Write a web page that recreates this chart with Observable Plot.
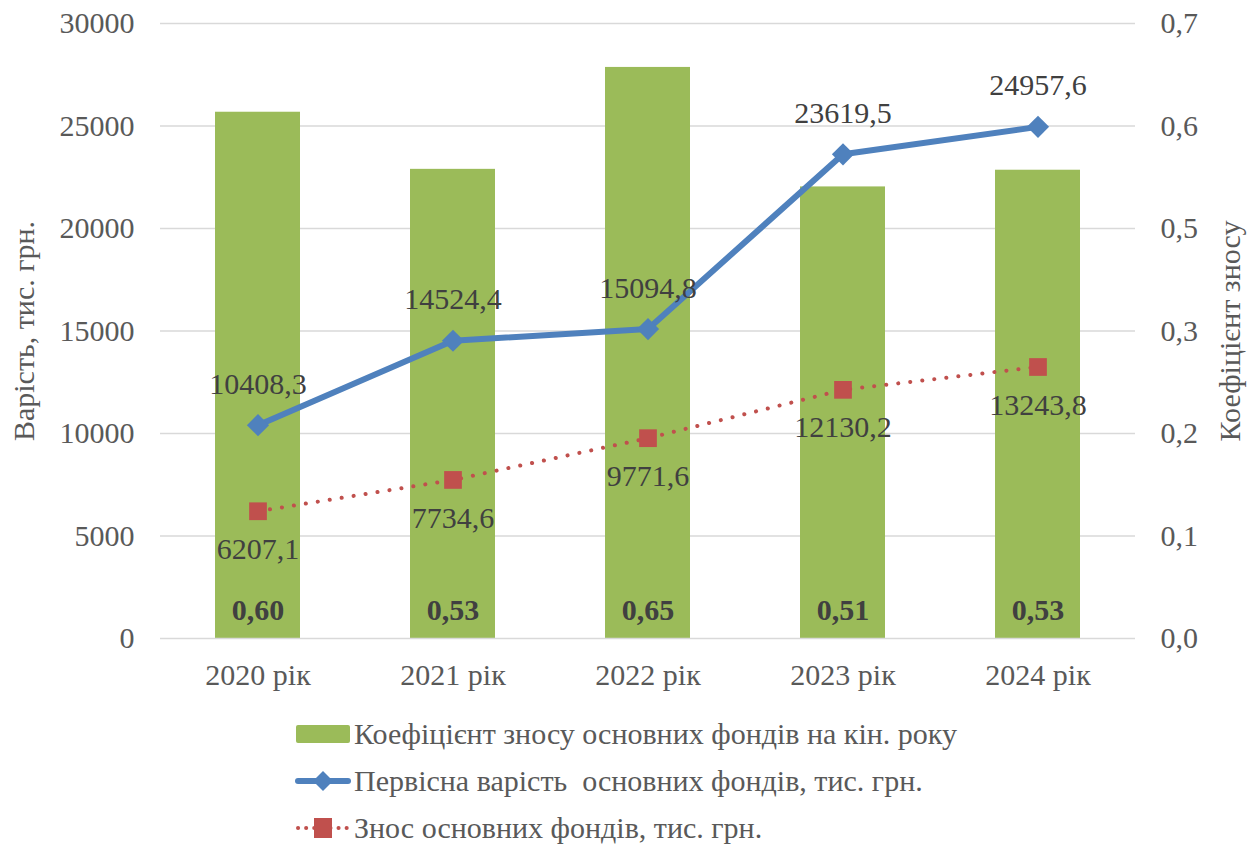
<!DOCTYPE html>
<html>
<head>
<meta charset="utf-8">
<script src="https://cdn.jsdelivr.net/npm/d3@7"></script>
<script src="https://cdn.jsdelivr.net/npm/@observablehq/plot@0.6"></script>
<style>
  body { margin: 0; background: #fff; font-family: 'Liberation Serif', serif; }
  #chart svg, #chart svg text { font-family: 'Liberation Serif', serif !important; }
  #legend { padding-left: 295px; margin-top: 10px; color: #595959; font-size: 30px; font-family: 'Liberation Serif', serif; }
  .row { height: 47px; display: flex; align-items: center; }
  .row svg { margin-right: 3px; }
</style>
</head>
<body>
<div id="chart"></div>
<div id="legend"></div>
<script>
const years = ["2020 рік", "2021 рік", "2022 рік", "2023 рік", "2024 рік"];
const ratio = [0.599, 0.534, 0.65, 0.514, 0.533];
const original = [10408.3, 14524.4, 15094.8, 23619.5, 24957.6];
const wear = [6207.1, 7734.6, 9771.6, 12130.2, 13243.8];
const leftTicks = [0, 5000, 10000, 15000, 20000, 25000, 30000];
const seriesNames = [
  "Коефіцієнт зносу основних фондів на кін. року",
  "Первісна варість  основних фондів, тис. грн.",
  "Знос основних фондів, тис. грн."
];

const yMax = 30000, rMax = 0.7, k = yMax / rMax;
const fmt1 = v => v.toFixed(1).replace(".", ",");
const fmt2 = v => v.toFixed(2).replace(".", ",");

const rows = years.map((y, i) => ({ year: y, ratio: ratio[i], r: ratio[i] * k, orig: original[i], wear: wear[i] }));

const green = "#9BBB59", blue = "#4F81BD", red = "#C0504D", grid = "#D9D9D9", txt = "#404040", axisTxt = "#595959";
const FS = 30;

const chart = Plot.plot({
  width: 1256,
  height: 700,
  marginLeft: 160,
  marginRight: 121,
  marginTop: 23,
  marginBottom: 62,
  style: { fontFamily: "'Liberation Serif', serif", fontSize: FS + "px", color: axisTxt, background: "#fff" },
  x: { type: "band", domain: years, padding: 0.564, paddingOuter: 0.282 },
  y: { domain: [0, yMax] },
  marks: [
    Plot.ruleY(leftTicks.slice(1), { stroke: grid, strokeWidth: 1.5 }),
    Plot.barY(rows, { x: "year", y: "r", fill: green }),
    Plot.ruleY([0], { stroke: grid, strokeWidth: 1.5 }),
    Plot.axisY({ ticks: leftTicks, tickSize: 0, tickPadding: 26, tickFormat: d => String(d), label: "Варість, тис. грн.", labelAnchor: "center", labelArrow: "none", labelOffset: 148, fill: axisTxt, fontSize: FS }),
    Plot.axisY({ anchor: "right", ticks: leftTicks, tickSize: 0, tickPadding: 25, tickFormat: d => (d / k).toFixed(1).replace(".", ","), label: "Коефіцієнт зносу", labelAnchor: "center", labelArrow: "none", labelOffset: 104, fill: axisTxt, fontSize: FS }),
    Plot.axisX({ tickSize: 0, tickPadding: 25, label: null, fill: axisTxt, fontSize: FS }),
    Plot.line(rows, { x: "year", y: "wear", stroke: red, strokeWidth: 4, strokeDasharray: "0.1 12", strokeLinecap: "round" }),
    Plot.dot(rows, { x: "year", y: "wear", symbol: "square", r: 10, fill: red, stroke: "none" }),
    Plot.line(rows, { x: "year", y: "orig", stroke: blue, strokeWidth: 6, strokeLinejoin: "round" }),
    Plot.dot(rows, { x: "year", y: "orig", symbol: "diamond2", r: 10, fill: blue, stroke: "none" }),
    Plot.text(rows, { x: "year", y: 0, text: d => fmt2(d.ratio), dy: -28, fontWeight: "bold", fontSize: FS, fill: txt }),
    Plot.text(rows, { x: "year", y: "orig", text: d => fmt1(d.orig), dy: -41, fontSize: FS, fill: txt }),
    Plot.text(rows, { x: "year", y: "wear", text: d => fmt1(d.wear), dy: 38, fontSize: FS, fill: txt })
  ]
});
document.getElementById("chart").appendChild(chart);

const sw = [
  `<svg width="56" height="20"><rect x="1" y="1" width="54" height="18" rx="2" fill="${green}"/></svg>`,
  `<svg width="56" height="30"><line x1="3" y1="15" x2="53" y2="15" stroke="${blue}" stroke-width="6" stroke-linecap="round"/><path d="M28 5 L38 15 L28 25 L18 15 Z" fill="${blue}"/></svg>`,
  `<svg width="56" height="30"><line x1="3" y1="15" x2="53" y2="15" stroke="${red}" stroke-width="4" stroke-dasharray="0.1 8" stroke-linecap="round"/><rect x="19" y="5" width="18" height="20" fill="${red}"/></svg>`
];
document.getElementById("legend").innerHTML = seriesNames.map((n, i) => `<div class="row">${sw[i]}<span style="white-space:pre">${n}</span></div>`).join("");
</script>
</body>
</html>
